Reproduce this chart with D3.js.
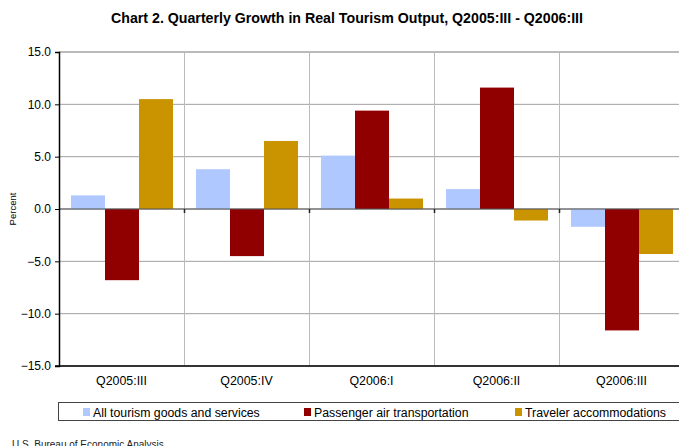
<!DOCTYPE html>
<html>
<head>
<meta charset="utf-8">
<script src="https://cdn.jsdelivr.net/npm/d3@7"></script>
<style>
  body { margin: 0; background: #fff; overflow: hidden; }
  svg { font-family: Arial, "Liberation Sans", sans-serif; }
</style>
</head>
<body>
<div id="chart"></div>
<script>
// Chart data
var quarters = ["Q2005:III", "Q2005:IV", "Q2006:I", "Q2006:II", "Q2006:III"];
var seriesNames = ["All tourism goods and services", "Passenger air transportation", "Traveler accommodations"];
var allTourism = [1.3, 3.8, 5.1, 1.9, -1.7];
var airTransport = [-6.8, -4.5, 9.4, 11.6, -11.6];
var accommodations = [10.5, 6.5, 1.0, -1.1, -4.3];
var yTicks = [-15, -10, -5, 0, 5, 10, 15];
var colors = ["#afc8ff", "#900000", "#c99400"];

var svgWidth = 679;
var svgHeight = 446;

var margin = { top: 52, right: -5, bottom: 80, left: 59 };
var width = svgWidth - margin.left - margin.right;
var height = svgHeight - margin.top - margin.bottom;

var svg = d3.select("#chart")
    .append("svg")
    .attr("width", svgWidth)
    .attr("height", svgHeight);

// Title
svg.append("text")
    .attr("x", 347)
    .attr("y", 23)
    .attr("text-anchor", "middle")
    .attr("font-size", 14.2)
    .attr("font-weight", "bold")
    .text("Chart 2. Quarterly Growth in Real Tourism Output, Q2005:III - Q2006:III");

var chartGroup = svg.append("g")
    .attr("transform", `translate(${margin.left}, ${margin.top})`);

// Scales
var x0 = d3.scaleBand()
    .domain(quarters)
    .range([0, width]);

var x1 = d3.scaleBand()
    .domain(seriesNames)
    .range([12, x0.bandwidth() - 11]);

var y = d3.scaleLinear()
    .domain([-15, 15])
    .range([height, 0]);

// Horizontal gridlines
chartGroup.append("g")
    .selectAll("line")
    .data(yTicks)
    .enter()
    .append("line")
    .attr("x1", 0)
    .attr("x2", width)
    .attr("y1", d => y(d))
    .attr("y2", d => y(d))
    .attr("stroke", d => d === 15 ? "#777" : "#a0a0a0")
    .attr("stroke-width", 1);

// Vertical category separators
chartGroup.append("g")
    .selectAll("line")
    .data(quarters.slice(1))
    .enter()
    .append("line")
    .attr("x1", d => x0(d) + 0.5)
    .attr("x2", d => x0(d) + 0.5)
    .attr("y1", 0)
    .attr("y2", height)
    .attr("stroke", "#bbb");

// Bars
var rows = quarters.map(function(q, i) {
    return { quarter: q, values: [allTourism[i], airTransport[i], accommodations[i]] };
});

var groups = chartGroup.selectAll(".qgroup")
    .data(rows)
    .enter()
    .append("g")
    .attr("transform", d => `translate(${x0(d.quarter)}, 0)`);

groups.selectAll("rect")
    .data(d => d.values.map((v, j) => ({ name: seriesNames[j], value: v, idx: j })))
    .enter()
    .append("rect")
    .attr("x", d => x1(d.name))
    .attr("width", x1.bandwidth())
    .attr("y", d => y(Math.max(0, d.value)))
    .attr("height", d => Math.abs(y(d.value) - y(0)))
    .attr("fill", d => colors[d.idx]);

// Zero line with ticks at category boundaries
chartGroup.append("line")
    .attr("x1", 0)
    .attr("x2", width)
    .attr("y1", y(0))
    .attr("y2", y(0))
    .attr("stroke", "#555")
    .attr("stroke-width", 1.2);

chartGroup.append("g")
    .selectAll("line")
    .data(quarters.slice(1))
    .enter()
    .append("line")
    .attr("x1", d => x0(d) + 0.5)
    .attr("x2", d => x0(d) + 0.5)
    .attr("y1", y(0))
    .attr("y2", y(0) + 4)
    .attr("stroke", "#222")
    .attr("stroke-width", 1.5);

// Left axis
var leftAxis = d3.axisLeft(y)
    .tickValues(yTicks)
    .tickFormat(d3.format(".1f"))
    .tickSize(4);

var yAxis = chartGroup.append("g")
    .call(leftAxis);
yAxis.select(".domain").attr("stroke", "#000").attr("stroke-width", 1.5);
yAxis.selectAll(".tick line").attr("stroke", "#000");
yAxis.selectAll(".tick text")
    .attr("font-size", 12)
    .attr("font-family", "Arial, 'Liberation Sans', sans-serif")
    .attr("fill", "#000")
    .attr("x", -8);

// Bottom line
chartGroup.append("line")
    .attr("x1", -4)
    .attr("x2", width)
    .attr("y1", height)
    .attr("y2", height)
    .attr("stroke", "#000")
    .attr("stroke-width", 1.5);

// Category labels
chartGroup.append("g")
    .selectAll("text")
    .data(quarters)
    .enter()
    .append("text")
    .attr("x", d => x0(d) + x0.bandwidth() / 2)
    .attr("y", height + 19)
    .attr("text-anchor", "middle")
    .attr("font-size", 12.4)
    .text(d => d);

// Y axis title
svg.append("text")
    .attr("transform", `translate(16, ${margin.top + y(0)}) rotate(-90)`)
    .attr("text-anchor", "middle")
    .attr("font-size", 9.5)
    .text("Percent");

// Legend
svg.append("rect")
    .attr("x", 58.5)
    .attr("y", 402.5)
    .attr("width", 640)
    .attr("height", 18)
    .attr("fill", "none")
    .attr("stroke", "#444");

var legendX = [83, 304, 515];
var legend = svg.selectAll(".legend")
    .data(seriesNames)
    .enter()
    .append("g")
    .attr("transform", (d, i) => `translate(${legendX[i]}, 412)`);

legend.append("rect")
    .attr("x", 0)
    .attr("y", -4)
    .attr("width", 7)
    .attr("height", 8)
    .attr("fill", (d, i) => colors[i]);

legend.append("text")
    .attr("x", 10)
    .attr("y", 4.5)
    .attr("font-size", 12.3)
    .text(d => d);

// Source
svg.append("text")
    .attr("x", 12)
    .attr("y", 448)
    .attr("font-size", 10)
    .attr("fill", "#222")
    .text("U.S. Bureau of Economic Analysis");
</script>
</body>
</html>
